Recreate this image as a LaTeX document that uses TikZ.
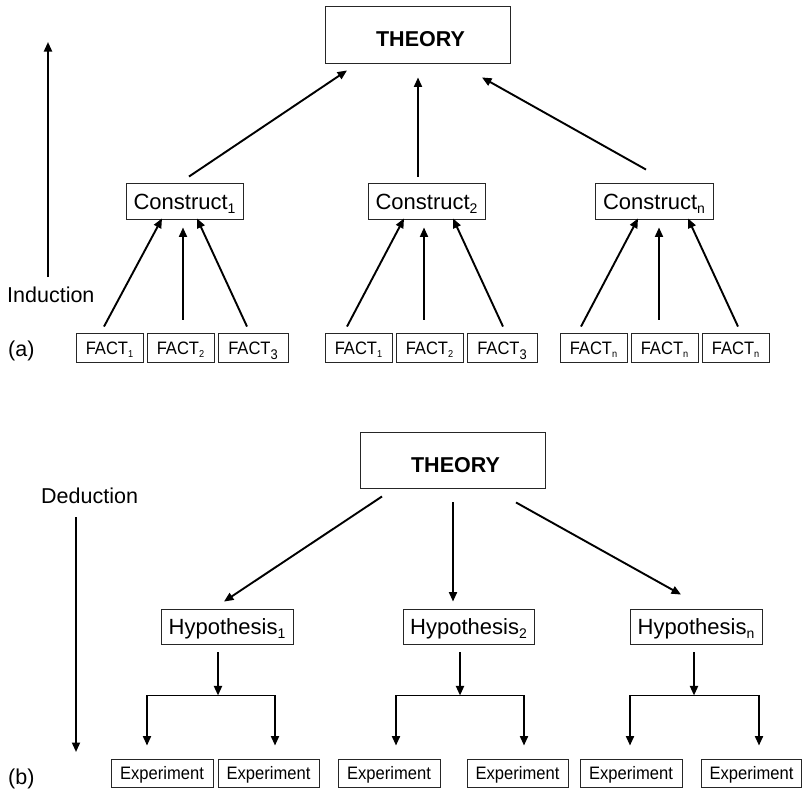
\documentclass[tikz,border=0pt]{standalone}
\usepackage{fontspec}
\setmainfont{Liberation Sans}
\newfontfamily\narrowfont[FakeStretch=0.92]{Liberation Sans}
\usetikzlibrary{arrows.meta,calc}
\newcommand\csub[1]{\raisebox{-4pt}{\fontsize{14}{14}\selectfont #1}}
\newcommand\fsub[1]{\raisebox{-3pt}{\fontsize{10}{10}\selectfont #1}}
\newcommand\fsubb[1]{\raisebox{-5pt}{\fontsize{14}{14}\selectfont #1}}
\begin{document}
\begin{tikzpicture}[x=1pt,y=-1pt,
  box/.style={draw=black!85, line width=0.9pt, rectangle, inner sep=0pt, align=center},
  big/.style={box, font=\fontsize{22}{22}\selectfont, text height=16pt, text depth=0pt, minimum height=36pt},
  small/.style={box, font=\narrowfont\fontsize{18}{18}\selectfont, text height=13pt, text depth=0pt},
  fact/.style={small, minimum height=29pt},
  expt/.style={small, minimum height=28pt},
  theory/.style={box, font=\bfseries\fontsize{21.5}{21.5}\selectfont, text height=24pt, text depth=0pt, minimum width=185pt, minimum height=57pt},
  lab/.style={inner sep=0pt, anchor=base west, font=\fontsize{21.5}{21.5}\selectfont},
  arr/.style={line width=1.9pt, -{Triangle[length=9.5pt,width=8pt]}},
  arrtwo/.style={line width=1.9pt, {Triangle[length=9.5pt,width=8pt]}-{Triangle[length=9.5pt,width=8pt]}},
]
\useasboundingbox (0,0) rectangle (802,795);

% ---------- (a) Induction ----------
\node[theory] (th1) at (417.5,34.5) {\hspace*{6pt}THEORY};
\node[big, minimum width=117pt] (c1) at (184.5,201) {Construct\csub{1}};
\node[big, minimum width=117pt] (c2) at (426.5,201) {Construct\csub{2}};
\node[big, minimum width=118pt] (cn) at (654,201) {Construct\csub{n}};

\node[fact, minimum width=67pt] (f11) at (109.5,347.5) {FACT\fsub{1}};
\node[fact, minimum width=67pt] (f12) at (180.5,347.5) {FACT\fsub{2}};
\node[fact, minimum width=70pt] (f13) at (253,347.5) {FACT\fsubb{3}};
\node[fact, minimum width=67pt] (f21) at (358.5,347.5) {FACT\fsub{1}};
\node[fact, minimum width=67pt] (f22) at (429.5,347.5) {FACT\fsub{2}};
\node[fact, minimum width=70pt] (f23) at (502,347.5) {FACT\fsubb{3}};
\node[fact, minimum width=67pt] (f31) at (593.5,347.5) {FACT\fsub{n}};
\node[fact, minimum width=67pt] (f32) at (664.5,347.5) {FACT\fsub{n}};
\node[fact, minimum width=67pt] (f33) at (735.5,347.5) {FACT\fsub{n}};

\node[lab] (ind) at (7,302) {Induction};
\node[lab] (la) at (8,356) {(a)};
\coordinate (ia) at (48,277);
\coordinate (ib) at (48,42);
\draw[arr] (ia) -- (ib);

\draw[arr] ($(c1.north)+(4.5,-6)$) -- ($(th1.south)+(-70.5,7)$);
\draw[arr] ($(c2.north)+(-8.5,-6)$) -- ($(th1.south)+(0.5,14)$);
\draw[arr] ($(cn.north)+(-8,-13)$) -- ($(th1.south)+(64.5,14)$);

\draw[arr] ($(f11.north)+(-5.5,-6)$) -- ($(c1.south)+(-22.5,-1)$);
\draw[arr] ($(f12.north)+(2.5,-13)$) -- ($(c1.south)+(-1.5,8)$);
\draw[arr] ($(f13.north)+(-6,-6)$) -- ($(c1.south)+(12.5,-1)$);
\draw[arr] ($(f21.north)+(-11.5,-6)$) -- ($(c2.south)+(-22.5,-1)$);
\draw[arr] ($(f22.north)+(-5.5,-13)$) -- ($(c2.south)+(-2.5,8)$);
\draw[arr] ($(f23.north)+(1,-6)$) -- ($(c2.south)+(26.5,-1)$);
\draw[arr] ($(f31.north)+(-12.5,-6)$) -- ($(cn.south)+(-16,-1)$);
\draw[arr] ($(f32.north)+(-5.5,-13)$) -- ($(cn.south)+(5,8)$);
\draw[arr] ($(f33.north)+(2.5,-6)$) -- ($(cn.south)+(34,-1)$);

% ---------- (b) Deduction ----------
\node[theory, minimum height=56pt] (th2) at (452.5,460) {\hspace*{6pt}THEORY};
\node[big, minimum width=132pt, minimum height=35pt] (h1) at (227,626.5) {Hypothesis\csub{1}};
\node[big, minimum width=131pt, minimum height=35pt] (h2) at (468.5,626.5) {Hypothesis\csub{2}};
\node[big, minimum width=132pt, minimum height=35pt] (hn) at (696,626.5) {Hypothesis\csub{n}};

\node[expt, minimum width=102pt] (e1) at (162,773) {Experiment};
\node[expt, minimum width=101pt] (e2) at (268.5,773) {Experiment};
\node[expt, minimum width=102pt] (e3) at (389,773) {Experiment};
\node[expt, minimum width=101pt] (e4) at (517.5,773) {Experiment};
\node[expt, minimum width=102pt] (e5) at (631,773) {Experiment};
\node[expt, minimum width=100pt] (e6) at (751.5,773) {Experiment};

\node[lab] (ded) at (41,503) {Deduction};
\node[lab] (lb) at (8,784) {(b)};
\coordinate (da) at (76,517);
\coordinate (db) at (76,752);
\draw[arr] (da) -- (db);

\draw[arr] ($(th2.south)+(-70.5,8)$) -- ($(h1.north)+(-3,-7)$);
\draw[arr] ($(th2.south)+(0.5,14)$) -- ($(h2.north)+(-15.5,-7)$);
\draw[arr] ($(th2.south)+(63.5,14)$) -- ($(hn.north)+(-15,-14)$);

\coordinate (j1) at ($(h1.south)+(-9,51)$);
\coordinate (j2) at ($(h2.south)+(-8.5,51)$);
\coordinate (jn) at ($(hn.south)+(-2,51)$);
\draw[arr] ($(h1.south)+(-9,8)$) -- (j1);
\draw[arr] ($(h2.south)+(-8.5,8)$) -- (j2);
\draw[arr] ($(hn.south)+(-2,8)$) -- (jn);

\draw[arrtwo] ($(e1.north)+(-15,-13)$) |- (j1) -| ($(e2.north)+(6.5,-13)$);
\draw[arrtwo] ($(e3.north)+(7,-13)$) |- (j2) -| ($(e4.north)+(6.5,-13)$);
\draw[arrtwo] ($(e5.north)+(-1,-13)$) |- (jn) -| ($(e6.north)+(7.5,-13)$);
\end{tikzpicture}
\end{document}
